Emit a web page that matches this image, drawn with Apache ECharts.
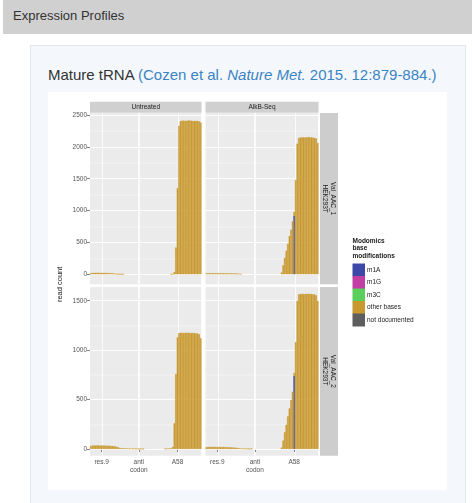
<!DOCTYPE html>
<html><head><meta charset="utf-8">
<script src="https://cdn.jsdelivr.net/npm/echarts@6/dist/echarts.min.js"></script>
<style>
html,body{margin:0;padding:0;width:472px;height:503px;overflow:hidden;background:#fff;font-family:"Liberation Sans",Arial,sans-serif;}
#hdr{position:absolute;left:3px;top:0;width:469px;height:34px;background:#d0d0d0;}
#hdr span{position:absolute;left:10px;top:8px;font-size:13px;color:#333;}
#box{position:absolute;left:30px;top:45px;width:434px;height:470px;background:#f4f8fc;border:1px solid #dfe7ef;}
#ttl{position:absolute;left:48px;top:66px;font-size:15px;color:#333;white-space:nowrap;}
#ttl span.ref{color:#3a83c4;}
#chart{position:absolute;left:48px;top:92px;width:399px;height:398px;background:#fff;}
</style></head>
<body>
<div id="hdr"><span>Expression Profiles</span></div>
<div id="box"></div>
<div id="ttl">Mature tRNA <span class="ref">(Cozen et al. <i>Nature Met.</i> 2015. 12:879-884.)</span></div>
<div id="chart"></div>
<script>
// ---------- data ----------
const positions = [2,3,4,5,6,7,8,9,10,11,12,13,14,15,16,17,18,19,20,21,22,23,24,25,26,27,28,29,30,31,32,33,34,35,36,37,
  38,39,40,41,42,43,44,45,46,47,48,49,50,51,52,53,54,55,56,57,58,59,60,61,62,63,64,65,66,67,68,69,70,71,72,73];
const xTickLabels = {9:'res.9', 33:'anti\ncodon', 58:'A58'};
const columnLabels = ['Untreated', 'AlkB-Seq'];
const rowLabels = [['Val_AAC_1', 'HEK293T'], ['Val_AAC_2', 'HEK293T']];
const yTicksTop = [0, 500, 1000, 1500, 2000, 2500];
const yTicksBottom = [0, 500, 1000, 1500];
const yRangeTop = [-157, 2531];
const yRangeBottom = [-68, 1639];

// other bases read counts (positions 2..73)
const untreatedRep1Other = [18,22,24,23,25,24,22,21,23,22,20,19,18,17,15,12,8,
  3,2,2,1,1,0,0,0,0,0,0,0,0,0,0,0,0,0,0,0,0,0,0,0,0,0,0,0,0,0,0,0,0,0,0,2,4,
  35,420,1350,2330,
  2405,2410,2412,2408,2410,2415,2412,2410,2408,2405,2410,2406,2400,2380,2290];
const alkbRep1Other = [14,16,17,16,15,16,17,16,15,16,15,14,15,14,13,14,13,12,12,11,10,8,5,
  0,0,0,0,0,0,0,0,0,0,0,0,0,0,0,0,0,0,0,0,0,0,0,0,0,
  30,140,260,370,480,600,700,830,60,1480,2050,
  2140,2145,2150,2148,2146,2150,2152,2150,2148,2145,2140,2130,2060];
const untreatedRep2Other = [30,34,36,35,37,36,35,34,36,35,33,34,32,31,30,28,26,22,15,10,
  8,7,7,6,6,5,5,4,4,3,3,2,2,1,1,0,0,0,
  0,0,0,0,0,0,0,0,0,0,2,3,4,5,8,
  22,260,760,1130,
  1172,1175,1176,1174,1175,1177,1176,1174,1173,1175,1172,1170,1168,1160,1120];
const alkbRep2Other = [18,20,21,22,21,22,21,20,21,20,19,20,19,18,18,17,16,15,14,12,10,8,6,
  5,4,3,3,2,1,1,
  0,0,0,0,0,0,0,0,0,0,0,0,0,0,0,0,0,0,
  15,85,170,245,330,410,495,580,30,1080,1500,
  1566,1568,1570,1569,1567,1570,1571,1569,1568,1566,1564,1555,1500];
// m1A modified reads
const m1aPositions = [58];
const m1aAlkbRep1 = [920];
const m1aAlkbRep2 = [740];
const m1aUntreated = [0];

const legendNames = ['m1A', 'm1G', 'm3C', 'other bases', 'not documented'];
const legendColors = ['#3b48a8', '#c23ea2', '#5bcf5b', '#c9992e', '#5e5e5e'];

// ---------- layout ----------
const FONT = '"Liberation Sans", Arial, sans-serif';
const colX = [[42, 111.5], [157.5, 113]];
const rowY = [[21, 171.3], [195, 168.7]];
const stripTop = 9.7, stripH = 11;
const rowStripX = 272, rowStripW = 18;

const panels = [
  {r:0, c:0, other: untreatedRep1Other, m1a: m1aUntreated},
  {r:0, c:1, other: alkbRep1Other, m1a: m1aAlkbRep1},
  {r:1, c:0, other: untreatedRep2Other, m1a: m1aUntreated},
  {r:1, c:1, other: alkbRep2Other, m1a: m1aAlkbRep2}
];

const grid = [], xAxis = [], yAxis = [], series = [];
const labelInterval = (idx, val) => xTickLabels[val] !== undefined;
// vertical grid lines sit on band edges next to the labelled positions
const gridEdgeIdx = [positions.indexOf(10), positions.indexOf(33), positions.indexOf(34), positions.indexOf(59)];
const splitInterval = (idx) => gridEdgeIdx.indexOf(idx) >= 0;
const noZero = v => (v > 0 ? v : '-');   // zero counts draw no bar

panels.forEach((p, g) => {
  const ticks = p.r === 0 ? yTicksTop : yTicksBottom;
  const range = p.r === 0 ? yRangeTop : yRangeBottom;
  grid.push({left: colX[p.c][0], width: colX[p.c][1], top: rowY[p.r][0], height: rowY[p.r][1],
    show: true, backgroundColor: '#ebebeb', borderWidth: 0});
  xAxis.push({gridIndex: g, type: 'category', data: positions.map(String), boundaryGap: true,
    axisLine: {show: false},
    splitLine: {show: true, interval: splitInterval, lineStyle: {color: '#ffffff', width: 0.8}},
    axisTick: {show: p.r === 1, interval: labelInterval, alignWithLabel: true, length: 3, lineStyle: {color: '#333', width: 0.6}},
    axisLabel: {show: p.r === 1, interval: labelInterval, formatter: v => xTickLabels[v] || '',
      fontSize: 6.5, lineHeight: 7.5, color: '#555', margin: 3, fontFamily: FONT}});
  yAxis.push({gridIndex: g, type: 'value', min: range[0], max: range[1],
    axisLine: {show: false}, splitLine: {show: false},
    axisTick: {show: p.c === 0, length: 3, lineStyle: {color: '#333', width: 0.6}, customValues: ticks},
    axisLabel: {show: p.c === 0, customValues: ticks, formatter: v => String(v),
      fontSize: 6.5, color: '#555', margin: 3, fontFamily: FONT}});

  const lines = [];
  ticks.forEach(v => lines.push({yAxis: v, lineStyle: {width: 0.9}}));
  for (let i = 0; i < ticks.length; i++) {
    const mid = ticks[i] + (ticks[1] - ticks[0]) / 2;
    if (mid < range[1]) lines.push({yAxis: mid, lineStyle: {width: 0.45}});
  }
  series.push({type: 'line', xAxisIndex: g, yAxisIndex: g, data: [], z: 1, silent: true,
    markLine: {silent: true, z: 1, symbol: ['none', 'none'], animation: false, label: {show: false},
      lineStyle: {color: '#ffffff', type: 'solid'}, emphasis: {disabled: true}, data: lines}});

  legendNames.forEach((name, si) => {
    let data = [];
    if (name === 'other bases') data = p.other.map(noZero);
    else if (name === 'm1A') data = positions.map(pos => {
      const k = m1aPositions.indexOf(pos); return k >= 0 ? noZero(p.m1a[k]) : '-'; });
    series.push({name, type: 'bar', xAxisIndex: g, yAxisIndex: g, stack: 's' + g, data,
      barCategoryGap: '0%', barGap: '0%', z: 3,
      itemStyle: {color: legendColors[si], borderColor: legendColors[si], borderWidth: 0.5},
      emphasis: {disabled: true}, animation: false});
  });
});

const graphic = [];
columnLabels.forEach((t, c) => {
  graphic.push({type: 'rect', shape: {x: colX[c][0], y: stripTop, width: colX[c][1], height: stripH},
    style: {fill: '#d0d0d0'}, silent: true});
  graphic.push({type: 'text', x: colX[c][0] + colX[c][1] / 2, y: stripTop + stripH / 2,
    style: {text: t, fontSize: 6.5, fill: '#1a1a1a', align: 'center', verticalAlign: 'middle', fontFamily: FONT}});
});
rowLabels.forEach((t, r) => {
  graphic.push({type: 'rect', shape: {x: rowStripX, y: rowY[r][0], width: rowStripW, height: rowY[r][1]},
    style: {fill: '#cdcdcd'}, silent: true});
  graphic.push({type: 'text', x: rowStripX + rowStripW / 2, y: rowY[r][0] + rowY[r][1] / 2, rotation: -Math.PI / 2,
    style: {text: t.join('\n'), fontSize: 6.5, lineHeight: 7.5, fill: '#1a1a1a', align: 'center', verticalAlign: 'middle', fontFamily: FONT}});
});
graphic.push({type: 'text', x: 12, y: (rowY[0][0] + rowY[1][0] + rowY[1][1]) / 2, rotation: Math.PI / 2,
  style: {text: 'read count', fontSize: 7.5, fill: '#1a1a1a', align: 'center', verticalAlign: 'middle', fontFamily: FONT}});
graphic.push({type: 'text', x: 304.5, y: 145,
  style: {text: 'Modomics\nbase\nmodifications', fontSize: 6.5, lineHeight: 7.5, fontWeight: 'bold', fill: '#1a1a1a', fontFamily: FONT}});

const chart = echarts.init(document.getElementById('chart'), null, {renderer: 'canvas'});
chart.setOption({
  animation: false,
  backgroundColor: '#ffffff',
  grid, xAxis, yAxis, series, graphic,
  legend: {data: legendNames, orient: 'vertical', left: 304.5, top: 171.5, padding: 0,
    itemWidth: 12.5, itemHeight: 13, itemGap: -0.5, icon: 'rect', selectedMode: false,
    itemStyle: {borderWidth: 0},
    textStyle: {fontSize: 6.5, color: '#1a1a1a', fontFamily: FONT, padding: [0, 0, 0, -3]}}
});
</script>
</body></html>
